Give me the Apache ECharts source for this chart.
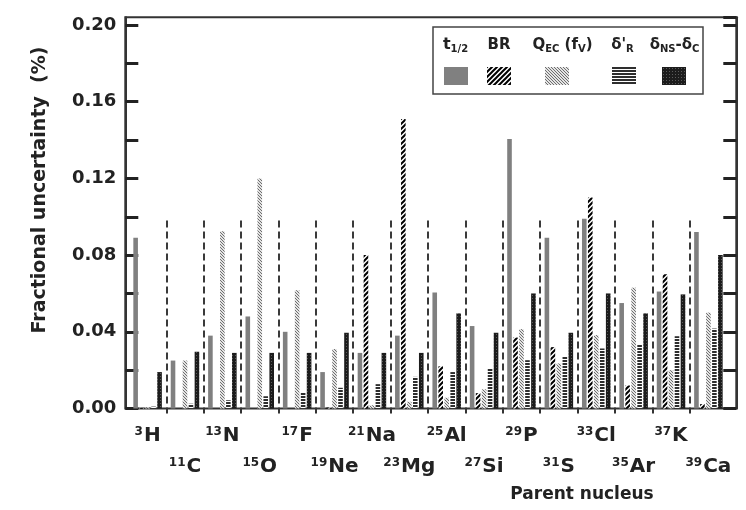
<!DOCTYPE html>
<html>
<head>
<meta charset="utf-8">
<script src="https://cdn.jsdelivr.net/npm/echarts@6/dist/echarts.min.js"></script>
<style>
html,body{margin:0;padding:0;background:#fff;}
#c{width:746px;height:510px;}
</style>
</head>
<body>
<div id="c"></div>
<script>
// ---- data ----
const massNumbers = ['3','11','13','15','17','19','21','23','25','27','29','31','33','35','37','39'];
const elements = ['H','C','N','O','F','Ne','Na','Mg','Al','Si','P','S','Cl','Ar','K','Ca'];
const seriesNames = ['t1/2','BR','QEC (fV)',"δ'R",'δNS-δC'];
const halfLife = [0.089,0.025,0.038,0.048,0.040,0.019,0.029,0.038,0.0605,0.043,0.1405,0.089,0.099,0.055,0.061,0.092];
const branching = [0.0003,0,0,0,0,0.0005,0.080,0.151,0.022,0.008,0.037,0.032,0.110,0.012,0.070,0.0023];
const qec = [0.0006,0.025,0.0925,0.120,0.0617,0.031,0.0017,0.0035,0.0056,0.010,0.0414,0.0235,0.0383,0.063,0.020,0.050];
const deltaR = [0.001,0.0025,0.0043,0.0064,0.0085,0.0108,0.0127,0.0165,0.019,0.021,0.0252,0.0273,0.0313,0.0336,0.0377,0.0417];
const deltaNSC = [0.019,0.0296,0.029,0.029,0.029,0.0395,0.029,0.029,0.0496,0.0395,0.060,0.0395,0.060,0.0496,0.0595,0.080];
const yTicks = [0,0.04,0.08,0.12,0.16,0.20];

const categories = massNumbers.map((m,i)=>m+elements[i]);

// ---- patterns ----
function pat(w,h,draw){const c=document.createElement('canvas');c.width=w;c.height=h;const x=c.getContext('2d');draw(x);return {image:c,repeat:'repeat'};}
const solidGray = '#808080';
const brPat = pat(5,5,x=>{x.fillStyle='#fff';x.fillRect(0,0,5,5);x.strokeStyle='#000';x.lineWidth=2;x.beginPath();x.moveTo(-1,6);x.lineTo(6,-1);x.moveTo(-1,1);x.lineTo(1,-1);x.moveTo(4,6);x.lineTo(6,4);x.stroke();});
const qecPat = pat(3,3,x=>{x.fillStyle='#e4e4e4';x.fillRect(0,0,3,3);x.fillStyle='#6e6e6e';for(let i=0;i<3;i++)x.fillRect(i,i,1,1);});
const drPat = pat(1,3,x=>{x.fillStyle='#fff';x.fillRect(0,0,1,3);x.fillStyle='#2e2e2e';x.fillRect(0,0,1,2);});
const nsPat = pat(3,3,x=>{x.fillStyle='#1c1c1c';x.fillRect(0,0,3,3);x.fillStyle='#5a5a5a';x.fillRect(1,1,1,1);});
const fills = [solidGray, brPat, qecPat, drPat, nsPat];
const values = [halfLife, branching, qec, deltaR, deltaNSC];

const FONT = 'DejaVu Sans';
const TXT = '#222';
const Y0 = 408.5, PX = 1917.5, YMAX = 0.204;
const gTop = Y0 - YMAX*PX, gBottom = 510 - Y0;

const chart = echarts.init(document.getElementById('c'), null, {renderer:'canvas'});
const legendX = [444, 487, 545, 612, 662];

const option = {
  animation:false,
  backgroundColor:'#fff',
  grid:[
    {left:125.3, right:9.7, top:gTop, bottom:gBottom, show:true, borderColor:'#333', borderWidth:2, backgroundColor:'transparent'},
    {left:128.9, right:18.9, top:gTop, bottom:gBottom},
    {left:166.3, right:56.3, top:Y0-0.098*PX, bottom:gBottom}
  ],
  xAxis:[
    {gridIndex:0, type:'value', min:0, max:1, show:false},
    {gridIndex:1, type:'category', data:categories, boundaryGap:true,
     axisLine:{show:false}, axisTick:{show:false}, splitLine:{show:false},
     axisLabel:{interval:0, margin:12, lineHeight:31, color:TXT, fontFamily:FONT, fontWeight:'bold', fontSize:20,
       formatter:(v,i)=>{const s='{s|'+massNumbers[i]+'}{e|'+elements[i]+'}';return i%2? '\n'+s : s;},
       rich:{s:{fontSize:12,fontWeight:'bold',fontFamily:FONT,color:TXT,padding:[0,1,9,0],lineHeight:31},
             e:{fontSize:20,fontWeight:'bold',fontFamily:FONT,color:TXT,lineHeight:31}}}},
    {gridIndex:2, type:'value', min:1, max:15, interval:1,
     axisLine:{show:false}, axisLabel:{show:false},
     axisTick:{show:true, length:5, lineStyle:{color:'#333', width:2}},
     splitLine:{show:true, lineStyle:{color:'#3a3a3a', width:2, type:[7,4]}}}
  ],
  yAxis:[
    {gridIndex:0, type:'value', min:0, max:YMAX, interval:0.02,
     axisLine:{show:true, lineStyle:{color:'#333', width:2}},
     axisTick:{show:true, inside:true, length:13, lineStyle:{color:'#222', width:3}},
     splitLine:{show:false},
     axisLabel:{margin:9, color:TXT, fontFamily:FONT, fontWeight:'bold', fontSize:18, showMaxLabel:false,
       formatter:v=>{const k=yTicks.findIndex(t=>Math.abs(t-v)<1e-6);return k>=0? yTicks[k].toFixed(2):'';}}},
    {gridIndex:0, type:'value', position:'right', min:0, max:YMAX, interval:0.02,
     axisLine:{show:true, lineStyle:{color:'#333', width:2}},
     axisTick:{show:true, inside:true, length:13, lineStyle:{color:'#222', width:3}},
     splitLine:{show:false}, axisLabel:{show:false}},
    {gridIndex:1, type:'value', min:0, max:YMAX, show:false, splitLine:{show:false}},
    {gridIndex:2, type:'value', min:0, max:0.098, show:false, splitLine:{show:false}}
  ],
  legend: seriesNames.map((n,i)=>({data:[n], left:legendX[i], top:67, itemWidth:24, itemHeight:18, icon:'rect',
     selectedMode:false, formatter:()=>'', textStyle:{fontSize:1}, padding:0, itemGap:0})),
  series: seriesNames.map((n,i)=>({
    name:n, type:'bar', xAxisIndex:1, yAxisIndex:2, data:values[i],
    barWidth:4.6, barGap:'30%', itemStyle:{color:fills[i]}, silent:true
  })),
  graphic:[
    {type:'rect', shape:{x:433,y:27,width:270,height:67}, style:{fill:'none', stroke:'#444', lineWidth:1.5}},
    {type:'text', x:455.5, y:45, style:{text:'t{s|1/2}', font:'bold 16px "DejaVu Sans"', fill:TXT, align:'center', verticalAlign:'middle',
      rich:{s:{fontSize:10,fontWeight:'bold',fontFamily:FONT,fill:TXT,padding:[8,0,0,0]}}}},
    {type:'text', x:499, y:45, style:{text:'BR', font:'bold 15px "DejaVu Sans"', fill:TXT, align:'center', verticalAlign:'middle'}},
    {type:'text', x:562.5, y:45, style:{text:'Q{s|EC} (f{s|V})', font:'bold 15px "DejaVu Sans"', fill:TXT, align:'center', verticalAlign:'middle',
      rich:{s:{fontSize:10,fontWeight:'bold',fontFamily:FONT,fill:TXT,padding:[8,0,0,0]}}}},
    {type:'text', x:622.5, y:45, style:{text:"δ'{s|R}", font:'bold 15px "DejaVu Sans"', fill:TXT, align:'center', verticalAlign:'middle',
      rich:{s:{fontSize:10,fontWeight:'bold',fontFamily:FONT,fill:TXT,padding:[8,0,0,0]}}}},
    {type:'text', x:674.5, y:45, style:{text:'δ{s|NS}-δ{s|C}', font:'bold 15px "DejaVu Sans"', fill:TXT, align:'center', verticalAlign:'middle',
      rich:{s:{fontSize:10,fontWeight:'bold',fontFamily:FONT,fill:TXT,padding:[8,0,0,0]}}}},
    {type:'text', x:40, y:190, rotation:Math.PI/2, style:{text:'Fractional uncertainty  (%)', font:'bold 19px "DejaVu Sans"', fill:TXT, align:'center', verticalAlign:'middle'}},
    {type:'text', x:582, y:495, style:{text:'Parent nucleus', font:'bold 17px "DejaVu Sans"', fill:TXT, align:'center', verticalAlign:'middle'}}
  ]
};
chart.setOption(option);
</script>
</body>
</html>
